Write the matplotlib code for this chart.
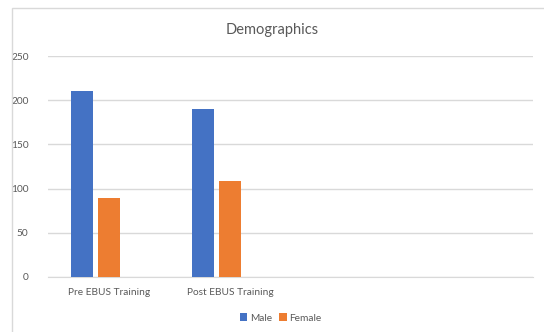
import matplotlib.pyplot as plt
import numpy as np
from matplotlib.patches import Rectangle

categories = ['Pre EBUS Training', 'Post EBUS Training', '', '']
male = [210, 190]
female = [89, 109]
series_names = ['Male', 'Female']
colors = ['#4472C4', '#ED7D31']

plt.rcParams['font.family'] = ['Lato', 'DejaVu Sans']
grey = '#595959'

fig = plt.figure(figsize=(5.44, 3.32), dpi=100)
ax = fig.add_axes([48 / 544, 1 - 277 / 332, 485 / 544, 221 / 332])

# chart border (partly cropped in the reference)
fig.patches.append(Rectangle((12 / 544, -0.05), 1.1, 1 - 8 / 332 + 0.05,
                             transform=fig.transFigure, fill=False,
                             edgecolor='#D9D9D9', linewidth=1))

x = np.arange(len(male))
step = 0.223
width = 0.181
ax.bar(x - step, male, width, color=colors[0], label=series_names[0], zorder=3)
ax.bar(x, female, width, color=colors[1], label=series_names[1], zorder=3)

ax.set_xlim(-0.5, len(categories) - 0.5)
ax.set_ylim(0, 250)
ax.set_yticks(range(0, 251, 50))
ax.set_xticks(range(len(categories)))
ax.set_xticklabels(categories)
ax.grid(axis='y', color='#D9D9D9', linewidth=1, zorder=0)
ax.tick_params(length=0, labelsize=7.3, colors=grey, pad=8)
ax.tick_params(axis='y', pad=14)
for s in ['top', 'right', 'left']:
    ax.spines[s].set_visible(False)
ax.spines['bottom'].set_color('#D9D9D9')

fig.text(272 / 544, 1 - 30 / 332, 'Demographics', ha='center', va='center',
         fontsize=10.5, color=grey)

fig.legend(loc='center', bbox_to_anchor=(281 / 544, 1 - 318 / 332), ncol=2,
           frameon=False, fontsize=7.3, labelcolor=grey, handlelength=0.7,
           handleheight=0.7, handletextpad=0.3, columnspacing=0.7)

fig.savefig('out.png', dpi=100)
